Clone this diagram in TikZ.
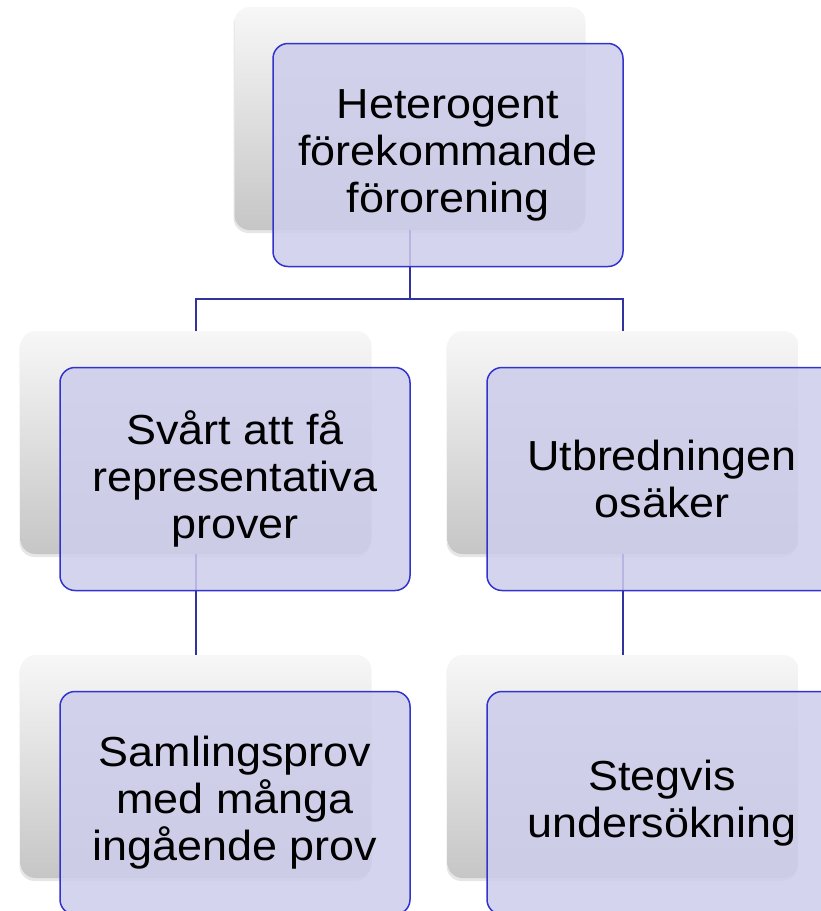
\documentclass[tikz,border=0pt]{standalone}
\usepackage{fontspec}
\setmainfont{Liberation Sans}[FakeStretch=1.07]
\usetikzlibrary{shadows}

\begin{document}
\begin{tikzpicture}[x=1pt,y=-1pt]
  \tikzset{
    backbox/.style={rounded corners=15pt, minimum width=351pt, minimum height=223pt,
      inner sep=0pt, top color=backtop, middle color=backmid, bottom color=backbot,
      drop shadow={shadow xshift=-1pt, shadow yshift=-3pt, opacity=0.2, fill=gray}},
    frontbox/.style={rounded corners=15pt, minimum width=350pt, minimum height=223pt,
      inner sep=0pt, draw=frontline, line width=1.5pt, fill=frontfill,
      fill opacity=0.85, text opacity=1, align=center,
      font=\fontsize{42}{47}\selectfont},
    link/.style={draw=linkcol, line width=2pt}
  }
  \definecolor{backtop}{RGB}{247,247,247}
  \definecolor{backmid}{RGB}{236,236,236}
  \definecolor{backbot}{RGB}{198,198,198}
  \definecolor{frontfill}{RGB}{205,205,236}
  \definecolor{frontline}{RGB}{51,51,204}
  \definecolor{linkcol}{RGB}{51,51,160}

  \useasboundingbox (0,0) rectangle (821,911);
  \clip (0,0) rectangle (821,911);

  % Back boxes
  \node[backbox] (topb)  at (410,118.5) {};
  \node[backbox] (leftb) at (196,442.5) {};
  \node[backbox] (rightb) at (623,442.5) {};
  \node[backbox] (leftlowb) at (196,766.5) {};
  \node[backbox] (rightlowb) at (623,766.5) {};

  % Connectors
  \coordinate (split) at (410,299);
  \draw[link] (topb.south) -- (split) -| (leftb.north);
  \draw[link] (split) -| (rightb.north);
  \draw[link] (leftb.south) -- (leftlowb.north);
  \draw[link] (rightb.south) -- (rightlowb.north);

  % Front boxes
  \node[frontbox] (top) at (448,155) {Heterogent\\förekommande\\förorening};
  \node[frontbox] (left) at (235,479) {Svårt att få\\representativa\\prover};
  \node[frontbox] (right) at (662,479) {Utbredningen\\osäker};
  \node[frontbox] (leftlow) at (235,803) {Samlingsprov\\med många\\ingående prov};
  \node[frontbox] (rightlow) at (662,803) {Stegvis\\undersökning};
\end{tikzpicture}
\end{document}
